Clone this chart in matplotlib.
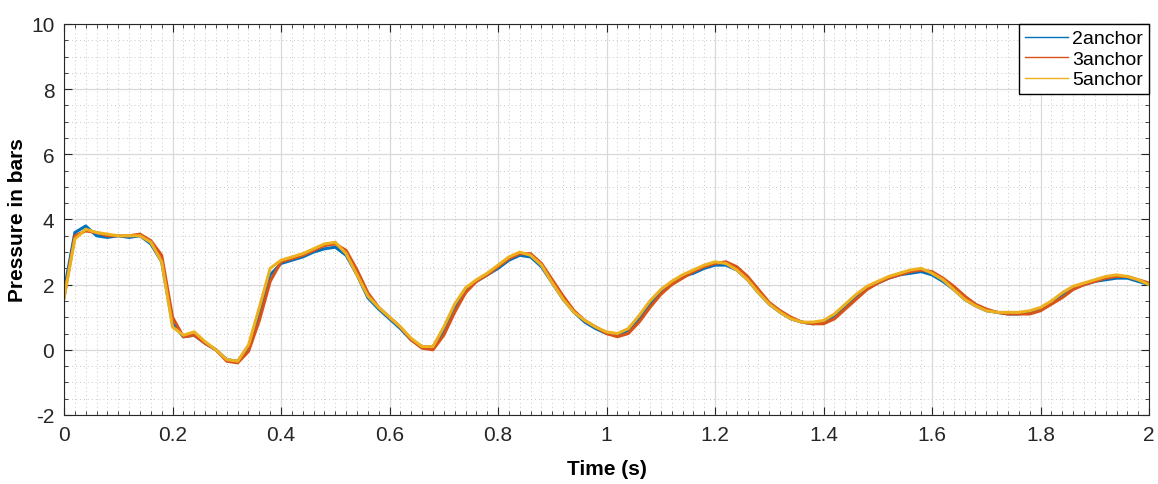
import numpy as np
import matplotlib.pyplot as plt
from matplotlib.ticker import MultipleLocator

plt.rcParams['font.family'] = ['Liberation Sans', 'DejaVu Sans']
plt.rcParams['axes.unicode_minus'] = False

# time base (s)
time = np.arange(0, 2.0001, 0.02)

# pressure readings (bars)
anchor2 = [1.8, 3.6, 3.8, 3.5, 3.45, 3.5, 3.45, 3.5, 3.25, 2.7, 0.8, 0.4, 0.45, 0.2, 0.0, -0.3,
           -0.35, 0.05, 1.1, 2.3, 2.65, 2.75, 2.85, 3.0, 3.1, 3.15, 2.9, 2.3, 1.6, 1.25,
           0.95, 0.65, 0.3, 0.1, 0.1, 0.55, 1.3, 1.85, 2.1, 2.3, 2.5, 2.75, 2.9, 2.85,
           2.55, 2.05, 1.55, 1.15, 0.85, 0.65, 0.5, 0.45, 0.6, 0.95, 1.4, 1.8, 2.05, 2.25,
           2.35, 2.5, 2.6, 2.6, 2.45, 2.15, 1.75, 1.4, 1.15, 0.95, 0.85, 0.8, 0.85, 1.05,
           1.35, 1.65, 1.9, 2.05, 2.2, 2.3, 2.35, 2.4, 2.3, 2.1, 1.85, 1.55, 1.35, 1.2,
           1.15, 1.1, 1.1, 1.15, 1.25, 1.45, 1.7, 1.9, 2.0, 2.1, 2.15, 2.2, 2.2, 2.1, 2.0]
anchor3 = [1.6, 3.5, 3.65, 3.6, 3.5, 3.5, 3.5, 3.55, 3.35, 2.9, 1.0, 0.4, 0.45, 0.2, 0.0, -0.35,
           -0.4, -0.05, 0.9, 2.1, 2.7, 2.8, 2.9, 3.05, 3.2, 3.25, 3.05, 2.45, 1.75, 1.3,
           1.0, 0.7, 0.3, 0.05, 0.0, 0.45, 1.15, 1.75, 2.1, 2.3, 2.55, 2.8, 2.95, 2.95,
           2.65, 2.15, 1.65, 1.2, 0.9, 0.7, 0.5, 0.4, 0.5, 0.85, 1.3, 1.7, 2.0, 2.2,
           2.4, 2.55, 2.65, 2.7, 2.55, 2.25, 1.85, 1.45, 1.2, 1.0, 0.85, 0.8, 0.8, 0.95,
           1.25, 1.55, 1.85, 2.05, 2.2, 2.3, 2.4, 2.45, 2.4, 2.2, 1.95, 1.65, 1.4, 1.25,
           1.15, 1.1, 1.1, 1.1, 1.2, 1.4, 1.6, 1.85, 2.0, 2.1, 2.2, 2.25, 2.25, 2.15, 2.05]
anchor5 = [1.6, 3.4, 3.7, 3.6, 3.55, 3.5, 3.5, 3.5, 3.3, 2.7, 0.7, 0.45, 0.55, 0.25, 0.0, -0.3,
           -0.35, 0.15, 1.3, 2.5, 2.75, 2.85, 2.95, 3.1, 3.25, 3.3, 2.95, 2.3, 1.65, 1.3,
           1.0, 0.7, 0.35, 0.1, 0.1, 0.7, 1.4, 1.9, 2.15, 2.35, 2.6, 2.85, 3.0, 2.9,
           2.6, 2.05, 1.55, 1.15, 0.9, 0.7, 0.55, 0.5, 0.65, 1.05, 1.5, 1.85, 2.1, 2.3,
           2.45, 2.6, 2.7, 2.65, 2.45, 2.15, 1.75, 1.4, 1.15, 0.95, 0.85, 0.85, 0.9, 1.1,
           1.4, 1.7, 1.95, 2.1, 2.25, 2.35, 2.45, 2.5, 2.35, 2.15, 1.85, 1.55, 1.35, 1.2,
           1.15, 1.15, 1.15, 1.2, 1.3, 1.5, 1.75, 1.95, 2.05, 2.15, 2.25, 2.3, 2.25, 2.15, 2.0]

xtick_labels = ['0', '0.2', '0.4', '0.6', '0.8', '1', '1.2', '1.4', '1.6', '1.8', '2']

fig = plt.figure(figsize=(11.58, 4.85), dpi=100)
ax = fig.add_axes([0.0553, 0.1423, 0.9370, 0.8062])

ax.plot(time, anchor2, color='#0072BD', lw=2.2, label='2anchor')
ax.plot(time, anchor3, color='#D95319', lw=2.2, label='3anchor')
ax.plot(time, anchor5, color='#EDB120', lw=2.2, label='5anchor')

ax.set_xlim(0, 2)
ax.set_ylim(-2, 10)
ax.xaxis.set_minor_locator(MultipleLocator(0.02))
ax.yaxis.set_major_locator(MultipleLocator(2))
ax.yaxis.set_minor_locator(MultipleLocator(0.5))
ax.set_xticks(np.arange(0, 2.01, 0.2))
ax.set_xticklabels(xtick_labels)

ax.grid(which='major', color='#d9d9d9', lw=0.9, ls='-')
ax.grid(which='minor', color='#c8c8c8', lw=0.7, ls=(0, (1, 3)))
ax.set_axisbelow(True)

ax.tick_params(which='both', direction='in', top=True, right=True, colors='#262626',
               labelsize=15)
ax.tick_params(which='major', length=6, pad=7)
ax.tick_params(which='minor', length=3)
for s in ax.spines.values():
    s.set_color('#262626')
    s.set_linewidth(0.8)

ax.set_xlabel('Time (s)', fontsize=15, fontweight='bold', labelpad=11)
ax.set_ylabel('Pressure in bars', fontsize=15, fontweight='bold', labelpad=3)

leg = ax.legend(loc='upper right', fontsize=14, fancybox=False, framealpha=1,
                edgecolor='black', borderpad=0.3, handlelength=2.2, handletextpad=0.25,
                labelspacing=0.15, borderaxespad=0.0)
leg.get_frame().set_linewidth(1.0)
for line in leg.get_lines():
    line.set_linewidth(1.0)

fig.savefig('out.png', dpi=100)
